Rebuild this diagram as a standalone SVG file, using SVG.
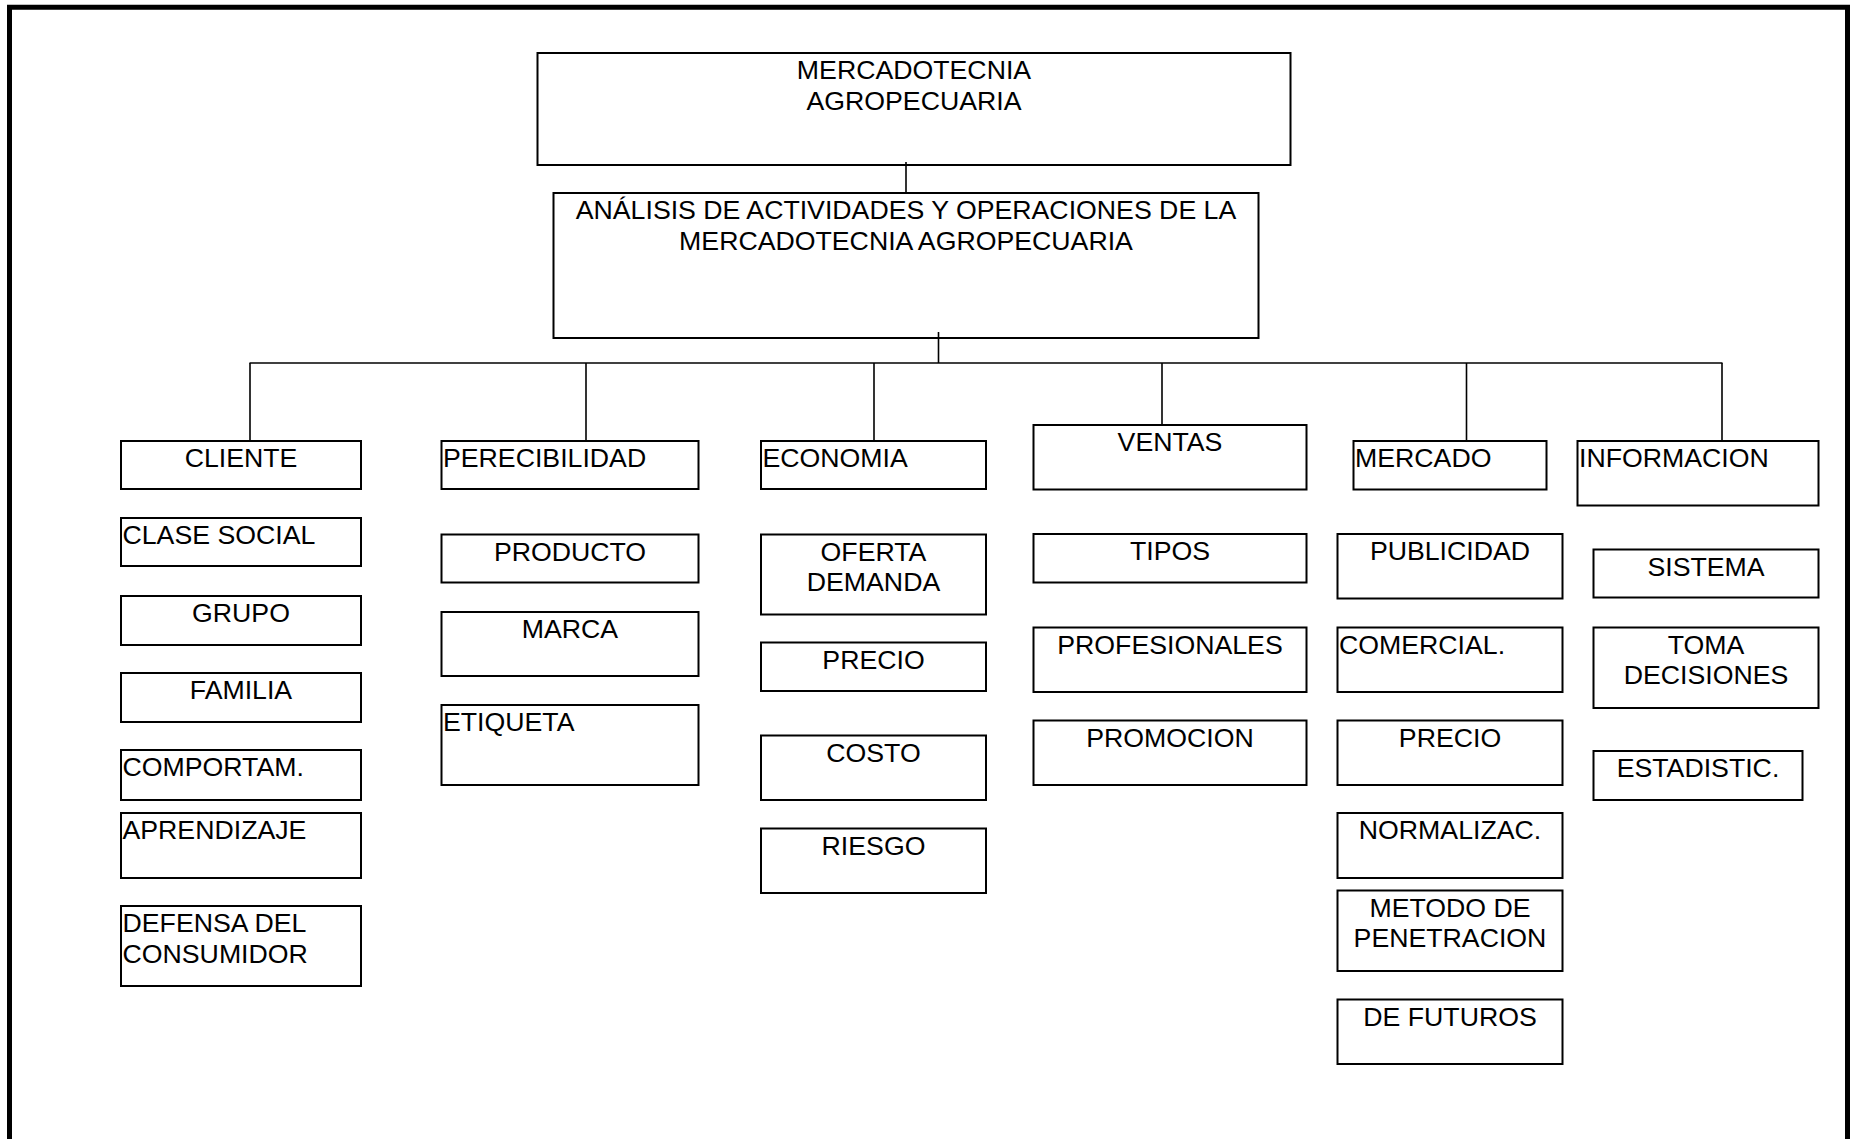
<svg xmlns="http://www.w3.org/2000/svg" width="1857" height="1139" viewBox="0 0 1857 1139">
<style>
.b{fill:#fff;stroke:#000;stroke-width:2}
.t{font-family:"Liberation Sans",Arial,sans-serif;font-size:26.7px;fill:#000}
.c{text-anchor:middle}
.ln{stroke:#000;stroke-width:1.6;fill:none}
</style>
<rect width="1857" height="1139" fill="#fff"/>
<path d="M9.5,1145 V7.25 H1847.5 V1145" fill="none" stroke="#000" stroke-width="5"/>
<g id="n-root"><rect class="b" x="537.5" y="53" width="753" height="112"/><text class="t c" x="914" y="79">MERCADOTECNIA</text><text class="t c" x="914" y="109.5">AGROPECUARIA</text></g>
<g id="n-analisis"><rect class="b" x="553.5" y="193" width="705" height="145"/><text class="t c" x="906" y="219">ANÁLISIS DE ACTIVIDADES Y OPERACIONES DE LA</text><text class="t c" x="906" y="249.5">MERCADOTECNIA AGROPECUARIA</text></g>
<g id="connectors">
<line class="ln" x1="906" y1="162" x2="906" y2="193"/>
<line class="ln" x1="938.5" y1="332" x2="938.5" y2="363"/>
<line class="ln" x1="249.5" y1="363" x2="1722.5" y2="363" stroke-width="2"/>
<line class="ln" x1="250" y1="363" x2="250" y2="441"/>
<line class="ln" x1="586" y1="363" x2="586" y2="441"/>
<line class="ln" x1="874" y1="363" x2="874" y2="441"/>
<line class="ln" x1="1162" y1="363" x2="1162" y2="425"/>
<line class="ln" x1="1466.5" y1="363" x2="1466.5" y2="441"/>
<line class="ln" x1="1722" y1="363" x2="1722" y2="441"/>
</g>
<g id="n-cliente"><rect class="b" x="121" y="441" width="240" height="48"/><text class="t c" x="241" y="467">CLIENTE</text></g>
<g id="n-clase"><rect class="b" x="121" y="518" width="240" height="48"/><text class="t" x="122.5" y="544">CLASE SOCIAL</text></g>
<g id="n-grupo"><rect class="b" x="121" y="596" width="240" height="49"/><text class="t c" x="241" y="622">GRUPO</text></g>
<g id="n-familia"><rect class="b" x="121" y="673" width="240" height="49"/><text class="t c" x="241" y="699">FAMILIA</text></g>
<g id="n-comportam"><rect class="b" x="121" y="750" width="240" height="50"/><text class="t" x="122.5" y="776">COMPORTAM.</text></g>
<g id="n-aprendizaje"><rect class="b" x="121" y="813" width="240" height="65"/><text class="t" x="122.5" y="839">APRENDIZAJE</text></g>
<g id="n-defensa"><rect class="b" x="121" y="906" width="240" height="80"/><text class="t" x="122.5" y="932">DEFENSA DEL</text><text class="t" x="122.5" y="962.5">CONSUMIDOR</text></g>
<g id="n-perecibilidad"><rect class="b" x="441.5" y="441" width="257" height="48"/><text class="t" x="443" y="467">PERECIBILIDAD</text></g>
<g id="n-producto"><rect class="b" x="441.5" y="534.5" width="257" height="48"/><text class="t c" x="570" y="560.5">PRODUCTO</text></g>
<g id="n-marca"><rect class="b" x="441.5" y="612" width="257" height="64"/><text class="t c" x="570" y="638">MARCA</text></g>
<g id="n-etiqueta"><rect class="b" x="441.5" y="705" width="257" height="80"/><text class="t" x="443" y="731">ETIQUETA</text></g>
<g id="n-economia"><rect class="b" x="761" y="441" width="225" height="48"/><text class="t" x="762.5" y="467">ECONOMIA</text></g>
<g id="n-oferta"><rect class="b" x="761" y="534.5" width="225" height="80"/><text class="t c" x="873.5" y="560.5">OFERTA</text><text class="t c" x="873.5" y="591">DEMANDA</text></g>
<g id="n-precio1"><rect class="b" x="761" y="642.5" width="225" height="48.5"/><text class="t c" x="873.5" y="668.5">PRECIO</text></g>
<g id="n-costo"><rect class="b" x="761" y="735.5" width="225" height="64.5"/><text class="t c" x="873.5" y="761.5">COSTO</text></g>
<g id="n-riesgo"><rect class="b" x="761" y="828.5" width="225" height="64.5"/><text class="t c" x="873.5" y="854.5">RIESGO</text></g>
<g id="n-ventas"><rect class="b" x="1033.5" y="425" width="273" height="64.5"/><text class="t c" x="1170" y="451">VENTAS</text></g>
<g id="n-tipos"><rect class="b" x="1033.5" y="534" width="273" height="48.5"/><text class="t c" x="1170" y="560">TIPOS</text></g>
<g id="n-profesionales"><rect class="b" x="1033.5" y="627.5" width="273" height="64.5"/><text class="t c" x="1170" y="653.5">PROFESIONALES</text></g>
<g id="n-promocion"><rect class="b" x="1033.5" y="720.5" width="273" height="64.5"/><text class="t c" x="1170" y="746.5">PROMOCION</text></g>
<g id="n-mercado"><rect class="b" x="1353.5" y="441" width="193" height="48.5"/><text class="t" x="1355" y="467">MERCADO</text></g>
<g id="n-publicidad"><rect class="b" x="1337.5" y="534" width="225" height="64.5"/><text class="t c" x="1450" y="560">PUBLICIDAD</text></g>
<g id="n-comercial"><rect class="b" x="1337.5" y="627.5" width="225" height="64.5"/><text class="t" x="1339" y="653.5">COMERCIAL.</text></g>
<g id="n-precio2"><rect class="b" x="1337.5" y="720.5" width="225" height="64.5"/><text class="t c" x="1450" y="746.5">PRECIO</text></g>
<g id="n-normalizac"><rect class="b" x="1337.5" y="813" width="225" height="65"/><text class="t c" x="1450" y="839">NORMALIZAC.</text></g>
<g id="n-metodo"><rect class="b" x="1337.5" y="890.5" width="225" height="80.5"/><text class="t c" x="1450" y="916.5">METODO DE</text><text class="t c" x="1450" y="947">PENETRACION</text></g>
<g id="n-futuros"><rect class="b" x="1337.5" y="999.5" width="225" height="64.5"/><text class="t c" x="1450" y="1025.5">DE FUTUROS</text></g>
<g id="n-informacion"><rect class="b" x="1577.5" y="441" width="241" height="64.5"/><text class="t" x="1579" y="467">INFORMACION</text></g>
<g id="n-sistema"><rect class="b" x="1593.5" y="549.5" width="225" height="48"/><text class="t c" x="1706" y="575.5">SISTEMA</text></g>
<g id="n-toma"><rect class="b" x="1593.5" y="627.5" width="225" height="80.5"/><text class="t c" x="1706" y="653.5">TOMA</text><text class="t c" x="1706" y="684">DECISIONES</text></g>
<g id="n-estadistic"><rect class="b" x="1593.5" y="751" width="209" height="49"/><text class="t c" x="1698" y="777">ESTADISTIC.</text></g>
</svg>
